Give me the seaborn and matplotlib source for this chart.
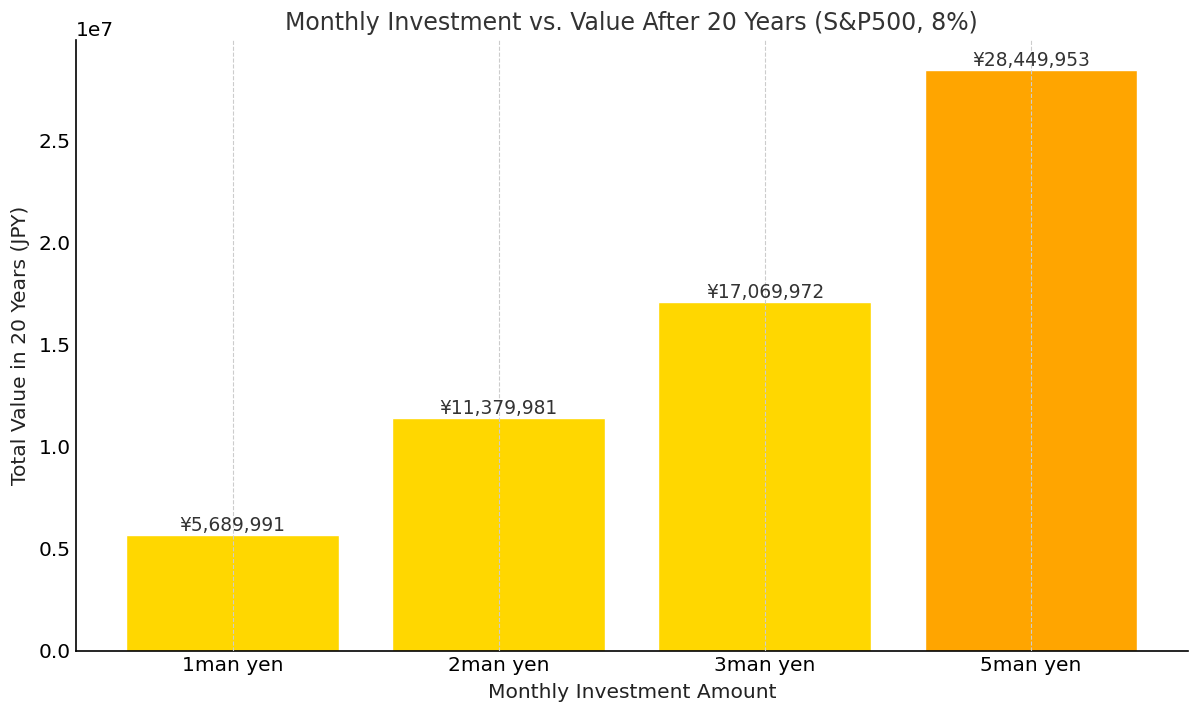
import pandas as pd
import numpy as np
import matplotlib
matplotlib.use("Agg")
import matplotlib.pyplot as plt
import seaborn as sns

# values
labels = ["1man yen", "2man yen", "3man yen", "5man yen"]
values = [5689991, 11379981, 17069972, 28449953]
colors = ["#FFD700", "#FFD700", "#FFD700", "#FFA500"]

df = pd.DataFrame({"amount": labels, "value": values})

sns.set_style("white")
plt.rcParams['font.family'] = ['DejaVu Sans']
plt.rcParams['xtick.direction'] = 'in'
plt.rcParams['ytick.direction'] = 'in'

fig, ax = plt.subplots(figsize=(12, 7.16), dpi=100)
sns.barplot(data=df, x="amount", y="value", hue="amount", palette=colors,
            legend=False, width=0.8, saturation=1, ax=ax)

for i, v in enumerate(values):
    ax.text(i, v, f"¥{v:,}", ha="center", va="bottom", fontsize=13.4, color="#333333")

ax.set_xlim(-0.59, 3.59)
ax.set_ylim(0, 2.99e7)
ax.xaxis.grid(True, linestyle="--", color="#cccccc", linewidth=0.8)
ax.yaxis.grid(False)
ax.set_axisbelow(False)
for s in ["top", "right"]:
    ax.spines[s].set_visible(False)
for s in ["left", "bottom"]:
    ax.spines[s].set_color("black")
    ax.spines[s].set_linewidth(1.2)
ax.tick_params(axis="both", labelsize=14.5, colors="black", length=5, width=1)
ax.yaxis.get_offset_text().set_fontsize(14.5)

ax.set_title("Monthly Investment vs. Value After 20 Years (S&P500, 8%)", fontsize=17,
             color="#333333", pad=7)
ax.set_xlabel("Monthly Investment Amount", fontsize=14.6, color="#222222", labelpad=6)
ax.set_ylabel("Total Value in 20 Years (JPY)", fontsize=14.6, color="#222222", labelpad=6)

plt.subplots_adjust(left=0.063, right=0.99, top=0.944, bottom=0.091)
plt.savefig("out.png", dpi=100)
